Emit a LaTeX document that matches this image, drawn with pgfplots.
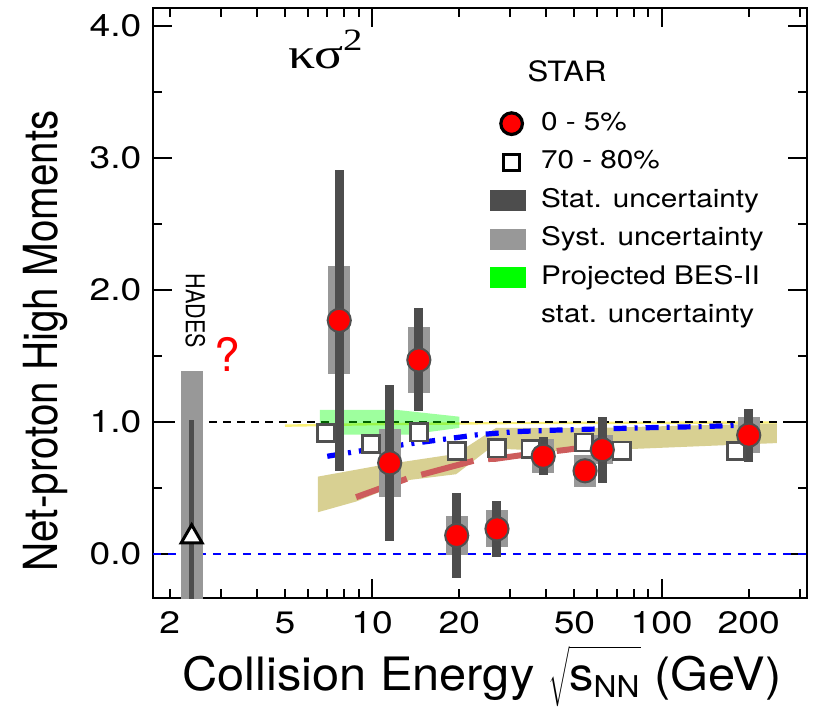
\documentclass[border=0pt]{standalone}
\usepackage{pgfplots}
\usepackage{pgfplotstable}
\pgfplotsset{compat=1.18}
\usepackage{fontspec}
\setmainfont{TeX Gyre Heros}
\newfontfamily\grk{Liberation Serif}
\usepackage{graphicx}

\definecolor{statc}{RGB}{77,77,77}
\definecolor{systc}{RGB}{152,152,152}
\definecolor{khaki}{RGB}{216,208,146}
\definecolor{redline}{RGB}{205,92,92}
\definecolor{edgec}{RGB}{80,80,80}
\definecolor{bandgreen}{RGB}{0,255,0}
\definecolor{yline}{RGB}{250,240,120}

\newcommand{\hs}[1]{\scalebox{1.2}[1]{#1}}

\pgfplotstableread{
x y stat syst
7.7 1.77 1.14 0.41
11.5 0.69 0.59 0.26
14.5 1.47 0.39 0.25
19.6 0.14 0.32 0.15
27 0.19 0.21 0.14
39 0.74 0.145 0.13
54.4 0.63 0.07 0.12
62.4 0.79 0.25 0.11
200 0.90 0.20 0.135
}\central

\pgfplotstableread{
x y
6.93 0.915
9.92 0.834
14.5 0.922
19.6 0.781
27 0.801
35.3 0.794
54.0 0.844
72.8 0.783
181 0.781
}\periph

\pgfplotstableread{
x y stat syst
2.38 0.13 0.886 1.26
}\hades

\pgfplotsset{
  circleg/.style={legend image code/.code={\path (0pt,-5pt) (17.5pt,5pt);
     \draw[mark=*, mark size=5.4pt, mark options={fill=red, draw=black, line width=1.6pt}] plot coordinates {(10.5pt,0pt)};}},
  squareleg/.style={legend image code/.code={\path (0pt,-5pt) (17.5pt,5pt);
     \draw[mark=square*, mark size=4pt, mark options={fill=white, draw=black, line width=1.5pt}] plot coordinates {(10.5pt,0pt)};}},
  statleg/.style={legend image code/.code={\fill[statc] (0pt,-5pt) rectangle (17.5pt,5pt);}},
  systleg/.style={legend image code/.code={\fill[systc] (0pt,-5pt) rectangle (17.5pt,5pt);}},
  greenleg/.style={legend image code/.code={\fill[bandgreen] (0pt,-5pt) rectangle (17.5pt,5pt);}},
}

\begin{document}
\begin{tikzpicture}
\useasboundingbox (-76.5pt,-54.5pt) rectangle (335pt,299pt);
\begin{axis}[
  scale only axis, width=327pt, height=295pt,
  xmode=log, xmin=1.75, xmax=318, ymin=-0.334, ymax=4.137,
  xtick={10,100}, xticklabels={\hs{10},\hs{100}},
  extra x ticks={2,5,20,50,200},
  extra x tick labels={\hs{2},\hs{5},\hs{20},\hs{50},\hs{200}},
  extra x tick style={major tick length=4.5pt},
  minor xtick={3,4,6,7,8,9,30,40,60,70,80,90,300},
  ytick={0,1,2,3,4}, yticklabels={\hs{0.0},\hs{1.0},\hs{2.0},\hs{3.0},\hs{4.0}},
  minor ytick={0.5,1.5,2.5,3.5},
  major tick length=9.5pt, minor tick length=4.5pt,
  tick align=inside,
  axis line style={line width=1.3pt},
  every tick/.style={line width=1pt, black},
  yticklabel style={font=\fontsize{15.5}{15.5}\selectfont, anchor=east, inner sep=0pt, xshift=-5.6pt},
  xticklabel style={font=\fontsize{15.5}{15.5}\selectfont, anchor=north, inner sep=0pt, yshift=-6.8pt},
  xlabel={\raisebox{0pt}[16pt][5pt]{\scalebox{1.06}[1]{Collision Energy $\sqrt{\vphantom{\Big|}\mbox{s}_{\mbox{\fontsize{15}{15}\selectfont NN}}}$ (GeV)}}},
  xlabel style={at={(axis description cs:0.503,-0.156)}, anchor=base, inner sep=0pt, font=\fontsize{23}{23}\selectfont},
  ylabel={\scalebox{0.86}[1]{Net-proton High Moments}},
  ylabel style={at={(axis description cs:-0.1453,0.436)}, anchor=base, font=\fontsize{23.5}{23.5}\selectfont},
  legend style={draw=none, fill=none, at={(axis description cs:0.515,0.825)}, anchor=north west,
    inner sep=0pt, row sep=7.25pt, column sep=7.5pt, font=\fontsize{12.8}{12.8}\selectfont,
    nodes={inner sep=0pt, text height=9.2pt, text depth=2.8pt}},
  legend cell align=left,
]
% khaki band
\addplot[forget plot, fill=khaki, draw=none] coordinates {
 (6.5,0.586) (10.9,0.675) (19.5,0.758) (26.8,0.955) (60,0.955) (250,0.99)
 (250,0.84) (47,0.775) (25.5,0.80) (19.5,0.604) (13.5,0.561) (8.8,0.397) (6.5,0.316)} -- cycle;
% reference lines
\addplot[forget plot, blue, line width=0.9pt, dash pattern=on 4pt off 3.5pt] coordinates {(1.75,0) (318,0)};
\addplot[forget plot, yline, line width=1.2pt] coordinates {(5,0.972) (10,0.983) (30,0.992) (250,0.996)};
\addplot[forget plot, black, line width=0.9pt, dash pattern=on 4pt off 3pt] coordinates {(1.75,1) (318,1)};
% green projected band
\addplot[forget plot, fill=bandgreen, fill opacity=0.38, draw=none] coordinates {
 (6.6,1.092) (12.1,1.092) (20,1.04) (20,0.955) (13.5,0.905) (6.6,0.905)} -- cycle;
% model curves
\addplot[forget plot, redline, line width=3pt, dash pattern=on 27pt off 7.5pt] coordinates {
 (8.8,0.43) (13.5,0.578) (15.2,0.607) (23.5,0.718) (26.5,0.72) (33.2,0.75) (46.9,0.789) (56.5,0.813)};
\addplot[forget plot, blue, line width=2.6pt, dash pattern=on 6.5pt off 4pt on 1.5pt off 4pt] coordinates {
 (7.0,0.74) (10.3,0.80) (15.4,0.851) (22.9,0.902) (31.5,0.927) (45.6,0.94) (94.9,0.958) (139,0.965) (174,0.973) (200,0.975)};
% 70-80%
\addplot[forget plot, only marks, mark=square*, mark size=4.3pt, mark options={fill=white, draw=edgec, line width=1.3pt}] table {\periph};
% HADES
\addplot[forget plot, only marks, mark=none, error bars/.cd, y dir=both, y explicit, error mark=none,
  error bar style={line width=11pt, systc}] table[y error=syst] {\hades};
\addplot[forget plot, only marks, mark=none, error bars/.cd, y dir=both, y explicit, error mark=none,
  error bar style={line width=2.7pt, statc}] table[y error=stat] {\hades};
\addplot[forget plot, only marks, mark=triangle*, mark size=6pt, mark options={fill=white, draw=black, line width=1.5pt}] table {\hades};
% STAR 0-5%
\addplot[forget plot, only marks, mark=none, error bars/.cd, y dir=both, y explicit, error mark=none,
  error bar style={line width=11pt, systc}] table[y error=syst] {\central};
\addplot[forget plot, only marks, mark=none, error bars/.cd, y dir=both, y explicit, error mark=none,
  error bar style={line width=4.5pt, statc}] table[y error=stat] {\central};
\addplot[forget plot, only marks, mark=*, mark size=5.8pt, mark options={fill=red, draw=edgec, line width=1pt}] table {\central};

% legend
\addlegendimage{circleg}
\addlegendentry{\scalebox{1.16}[1]{0 - 5\%}}
\addlegendimage{squareleg}
\addlegendentry{\scalebox{1.16}[1]{70 - 80\%}}
\addlegendimage{statleg}
\addlegendentry{\scalebox{1.16}[1]{Stat. uncertainty}}
\addlegendimage{systleg}
\addlegendentry{\scalebox{1.16}[1]{Syst. uncertainty}}
\addlegendimage{greenleg}
\addlegendentry{\scalebox{1.16}[1]{Projected BES-II}}
\addlegendimage{empty legend}
\addlegendentry{\scalebox{1.16}[1]{stat. uncertainty}}

% texts
\node[anchor=base west, font=\grk\fontsize{21.5}{21.5}\selectfont] at (axis description cs:0.196,0.898)
  {\scalebox{1.25}[1]{κσ\raisebox{0.42em}{\fontsize{15.5}{15.5}\selectfont 2}}};
\node[anchor=base west, font=\fontsize{14}{14}\selectfont] at (axis description cs:0.562,0.875) {\scalebox{1.11}[1]{STAR}};
\node[rotate=-90, font=\fontsize{13}{13}\selectfont] at (axis cs:2.45,1.84) {\scalebox{0.83}[1]{HADES}};
\node[text=red, font=\fontsize{23}{23}\selectfont] at (axis cs:3.16,1.51) {?};
\end{axis}
\end{tikzpicture}
\end{document}
